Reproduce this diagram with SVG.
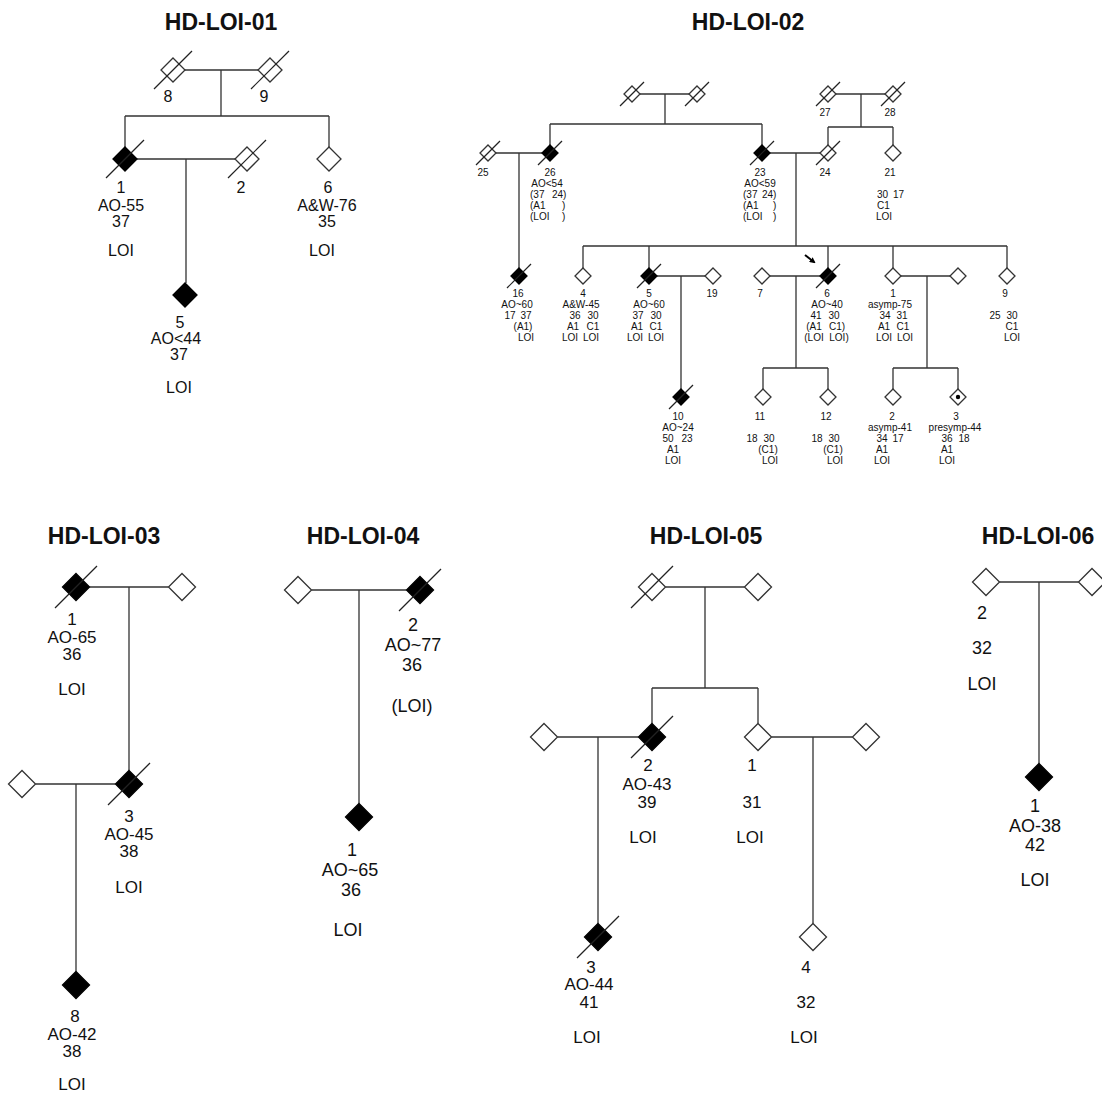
<svg xmlns="http://www.w3.org/2000/svg" xmlns:xlink="http://www.w3.org/1999/xlink" width="1102" height="1093" viewBox="0 0 1102 1093">
<style>
.bg{fill:#fff}
.ln{stroke:#333;stroke-width:1.3;fill:none}
.o{fill:#fff;stroke:#333;stroke-width:1.3}
.f{fill:#000;stroke:#000;stroke-width:1.3}
.s{stroke:#222;stroke-width:1.2;fill:none}
text{font-family:"Liberation Sans",Arial,sans-serif;fill:#111;text-anchor:middle}
.ttl{font-size:23px;font-weight:bold}
.t10{font-size:10px}
.t16{font-size:16px}
.t17{font-size:17px}
.t18{font-size:18px}
.st{text-anchor:start}
</style>
<defs>
<path id="dS" d="M0,-8L8,0L0,8L-8,0Z"/>
<path id="dM" d="M0,-12L12,0L0,12L-12,0Z"/>
<path id="dL" d="M0,-13.5L13.5,0L0,13.5L-13.5,0Z"/>
<path id="sS" d="M-12,12L12,-12"/>
<path id="sM" d="M-19,19L19,-19"/>
<path id="sL" d="M-21,21L21,-21"/>
<marker id="ah" markerWidth="6" markerHeight="6" refX="4" refY="3" orient="auto" markerUnits="userSpaceOnUse" viewBox="0 0 6 6"><path d="M0,0L6,3L0,6Z" fill="#000"/></marker>
</defs>
<rect class="bg" x="0" y="0" width="1102" height="1093"/>

<g id="titles">
<text class="ttl" x="221" y="30">HD-LOI-01</text>
<text class="ttl" x="748" y="30">HD-LOI-02</text>
<text class="ttl" x="104" y="544">HD-LOI-03</text>
<text class="ttl" x="363" y="544">HD-LOI-04</text>
<text class="ttl" x="706" y="544">HD-LOI-05</text>
<text class="ttl" x="1038" y="544">HD-LOI-06</text>
</g>

<g id="connectors">
<!-- HD-LOI-01 -->
<path class="ln" d="M185,70H258M221,70V116M125,116H329M125,116V147M329,116V147M137,159H235M186,159V283"/>
<!-- HD-LOI-02 -->
<path class="ln" d="M640,94H689M665,94V124M550,124H762M550,124V145M762,124V145"/>
<path class="ln" d="M836,94H885M861,94V127M828,127H893M828,127V145M893,127V145"/>
<path class="ln" d="M496,153H542M519,153V268M770,153H820M796,153V246"/>
<path class="ln" d="M583,246H1007M583,246V268M649,246V268M828,246V268M893,246V268M1007,246V268"/>
<path class="ln" d="M657,276H705M681,276V389"/>
<path class="ln" d="M770,276H820M796,276V368M763,368H828M763,368V389M828,368V389"/>
<path class="ln" d="M901,276H950M927,276V368M893,368H958M893,368V389M958,368V389"/>
<path class="ln" d="M805,255L814,262" style="stroke:#000;stroke-width:2" marker-end="url(#ah)"/>
<!-- HD-LOI-03 -->
<path class="ln" d="M89.5,587H168.5M129,587V770.5M35.5,784H115.5M76,784V971.5"/>
<!-- HD-LOI-04 -->
<path class="ln" d="M311.5,590H406.5M359,590V803.5"/>
<!-- HD-LOI-05 -->
<path class="ln" d="M665.5,587H744.5M705,587V688M652,688H758M652,688V723.5M758,688V723.5"/>
<path class="ln" d="M557.5,737H638.5M598,737V923.5M771.5,737H852.5M813,737V923.5"/>
<!-- HD-LOI-06 -->
<path class="ln" d="M999.5,582H1078.5M1039,582V763.5"/>
</g>

<!-- HD-LOI-01 nodes -->
<g id="p1-8"><use href="#dM" x="173" y="70" class="o"/><use href="#sM" x="173" y="70" class="s"/><text class="t16" x="168" y="102">8</text></g>
<g id="p1-9"><use href="#dM" x="270" y="70" class="o"/><use href="#sM" x="270" y="70" class="s"/><text class="t16" x="264" y="102">9</text></g>
<g id="p1-1"><use href="#dM" x="125" y="159" class="f"/><use href="#sM" x="125" y="159" class="s"/><text class="t16" x="121" y="193">1</text><text class="t16" x="121" y="211">AO-55</text><text class="t16" x="121" y="227">37</text><text class="t16" x="121" y="256">LOI</text></g>
<g id="p1-2"><use href="#dM" x="247" y="159" class="o"/><use href="#sM" x="247" y="159" class="s"/><text class="t16" x="241" y="193">2</text></g>
<g id="p1-6"><use href="#dM" x="329" y="159" class="o"/><text class="t16" x="328" y="193">6</text><text class="t16" x="327" y="211">A&amp;W-76</text><text class="t16" x="327" y="227">35</text><text class="t16" x="322" y="256">LOI</text></g>
<g id="p1-5"><use href="#dM" x="185" y="295" class="f"/><text class="t16" x="180" y="328">5</text><text class="t16" x="176" y="344">AO&lt;44</text><text class="t16" x="179" y="360">37</text><text class="t16" x="179" y="393">LOI</text></g>

<!-- HD-LOI-02 nodes -->
<g id="p2-gf"><use href="#dS" x="632" y="94" class="o"/><use href="#sS" x="632" y="94" class="s"/></g>
<g id="p2-gm"><use href="#dS" x="697" y="94" class="o"/><use href="#sS" x="697" y="94" class="s"/></g>
<g id="p2-27"><use href="#dS" x="828" y="94" class="o"/><use href="#sS" x="828" y="94" class="s"/><text class="t10" x="825" y="116">27</text></g>
<g id="p2-28"><use href="#dS" x="893" y="94" class="o"/><use href="#sS" x="893" y="94" class="s"/><text class="t10" x="890" y="116">28</text></g>
<g id="p2-25"><use href="#dS" x="488" y="153" class="o"/><use href="#sS" x="488" y="153" class="s"/><text class="t10" x="483" y="176">25</text></g>
<g id="p2-26"><use href="#dS" x="550" y="153" class="f"/><use href="#sS" x="550" y="153" class="s"/><text class="t10" x="550" y="176">26</text><text class="t10" x="547" y="187">AO&lt;54</text><text class="t10 st" y="198"><tspan x="530">(37</tspan><tspan x="552">24)</tspan></text><text class="t10 st" y="209"><tspan x="530">(A1</tspan><tspan x="562">)</tspan></text><text class="t10 st" y="220"><tspan x="530">(LOI</tspan><tspan x="562">)</tspan></text></g>
<g id="p2-23"><use href="#dS" x="762" y="153" class="f"/><use href="#sS" x="762" y="153" class="s"/><text class="t10" x="760" y="176">23</text><text class="t10" x="760" y="187">AO&lt;59</text><text class="t10 st" y="198"><tspan x="743">(37</tspan><tspan x="762">24)</tspan></text><text class="t10 st" y="209"><tspan x="743">(A1</tspan><tspan x="773">)</tspan></text><text class="t10 st" y="220"><tspan x="743">(LOI</tspan><tspan x="773">)</tspan></text></g>
<g id="p2-24"><use href="#dS" x="828" y="153" class="o"/><use href="#sS" x="828" y="153" class="s"/><text class="t10" x="825" y="176">24</text></g>
<g id="p2-21"><use href="#dS" x="893" y="153" class="o"/><text class="t10" x="890" y="176">21</text><text class="t10 st" y="198"><tspan x="877">30</tspan><tspan x="893">17</tspan></text><text class="t10 st" x="877" y="209">C1</text><text class="t10 st" x="876" y="220">LOI</text></g>

<g id="p2-16"><use href="#dS" x="519" y="276" class="f"/><use href="#sS" x="519" y="276" class="s"/><text class="t10" x="518" y="297">16</text><text class="t10" x="517" y="308">AO~60</text><text class="t10" y="319"><tspan x="510">17</tspan><tspan x="526">37</tspan></text><text class="t10" x="523" y="330">(A1)</text><text class="t10" x="526" y="341">LOI</text></g>
<g id="p2-4"><use href="#dS" x="583" y="276" class="o"/><text class="t10" x="583" y="297">4</text><text class="t10" x="581" y="308">A&amp;W-45</text><text class="t10" y="319"><tspan x="575">36</tspan><tspan x="593">30</tspan></text><text class="t10" y="330"><tspan x="573">A1</tspan><tspan x="593">C1</tspan></text><text class="t10" y="341"><tspan x="570">LOI</tspan><tspan x="591">LOI</tspan></text></g>
<g id="p2-5"><use href="#dS" x="649" y="276" class="f"/><use href="#sS" x="649" y="276" class="s"/><text class="t10" x="649" y="297">5</text><text class="t10" x="649" y="308">AO~60</text><text class="t10" y="319"><tspan x="638">37</tspan><tspan x="656">30</tspan></text><text class="t10" y="330"><tspan x="637">A1</tspan><tspan x="656">C1</tspan></text><text class="t10" y="341"><tspan x="635">LOI</tspan><tspan x="656">LOI</tspan></text></g>
<g id="p2-19"><use href="#dS" x="713" y="276" class="o"/><text class="t10" x="712" y="297">19</text></g>
<g id="p2-7"><use href="#dS" x="762" y="276" class="o"/><text class="t10" x="760" y="297">7</text></g>
<g id="p2-6"><use href="#dS" x="828" y="276" class="f"/><use href="#sS" x="828" y="276" class="s"/><text class="t10" x="827" y="297">6</text><text class="t10" x="827" y="308">AO~40</text><text class="t10" y="319"><tspan x="816">41</tspan><tspan x="834">30</tspan></text><text class="t10" y="330"><tspan x="814">(A1</tspan><tspan x="837">C1)</tspan></text><text class="t10" y="341"><tspan x="814">(LOI</tspan><tspan x="839">LOI)</tspan></text></g>
<g id="p2-1"><use href="#dS" x="893" y="276" class="o"/><text class="t10" x="893" y="297">1</text><text class="t10" x="890" y="308">asymp-75</text><text class="t10" y="319"><tspan x="885">34</tspan><tspan x="902">31</tspan></text><text class="t10" y="330"><tspan x="884">A1</tspan><tspan x="903">C1</tspan></text><text class="t10" y="341"><tspan x="884">LOI</tspan><tspan x="905">LOI</tspan></text></g>
<g id="p2-1sp"><use href="#dS" x="958" y="276" class="o"/></g>
<g id="p2-9"><use href="#dS" x="1007" y="276" class="o"/><text class="t10" x="1005" y="297">9</text><text class="t10" y="319"><tspan x="995">25</tspan><tspan x="1012">30</tspan></text><text class="t10" x="1012" y="330">C1</text><text class="t10" x="1012" y="341">LOI</text></g>

<g id="p2-10"><use href="#dS" x="681" y="397" class="f"/><use href="#sS" x="681" y="397" class="s"/><text class="t10" x="678" y="420">10</text><text class="t10" x="678" y="431">AO~24</text><text class="t10" y="442"><tspan x="668">50</tspan><tspan x="687">23</tspan></text><text class="t10" x="673" y="453">A1</text><text class="t10" x="673" y="464">LOI</text></g>
<g id="p2-11"><use href="#dS" x="763" y="397" class="o"/><text class="t10" x="760" y="420">11</text><text class="t10" y="442"><tspan x="752">18</tspan><tspan x="769">30</tspan></text><text class="t10" x="768" y="453">(C1)</text><text class="t10" x="770" y="464">LOI</text></g>
<g id="p2-12"><use href="#dS" x="828" y="397" class="o"/><text class="t10" x="826" y="420">12</text><text class="t10" y="442"><tspan x="817">18</tspan><tspan x="834">30</tspan></text><text class="t10" x="833" y="453">(C1)</text><text class="t10" x="835" y="464">LOI</text></g>
<g id="p2-2"><use href="#dS" x="893" y="397" class="o"/><text class="t10" x="892" y="420">2</text><text class="t10" x="890" y="431">asymp-41</text><text class="t10" y="442"><tspan x="882">34</tspan><tspan x="898">17</tspan></text><text class="t10" x="882" y="453">A1</text><text class="t10" x="882" y="464">LOI</text></g>
<g id="p2-3"><use href="#dS" x="958" y="397" class="o"/><circle cx="958" cy="397" r="2.2" fill="#000"/><text class="t10" x="956" y="420">3</text><text class="t10" x="955" y="431">presymp-44</text><text class="t10" y="442"><tspan x="947">36</tspan><tspan x="964">18</tspan></text><text class="t10" x="947" y="453">A1</text><text class="t10" x="947" y="464">LOI</text></g>

<!-- HD-LOI-03 nodes -->
<g id="p3-1"><use href="#dL" x="76" y="587" class="f"/><use href="#sL" x="76" y="587" class="s"/><text class="t17" x="72" y="625">1</text><text class="t17" x="72" y="643">AO-65</text><text class="t17" x="72" y="660">36</text><text class="t17" x="72" y="695">LOI</text></g>
<g id="p3-1sp"><use href="#dL" x="182" y="587" class="o"/></g>
<g id="p3-3"><use href="#dL" x="129" y="784" class="f"/><use href="#sL" x="129" y="784" class="s"/><text class="t17" x="129" y="822">3</text><text class="t17" x="129" y="840">AO-45</text><text class="t17" x="129" y="857">38</text><text class="t17" x="129" y="893">LOI</text></g>
<g id="p3-3sp"><use href="#dL" x="22" y="784" class="o"/></g>
<g id="p3-8"><use href="#dL" x="76" y="985" class="f"/><text class="t17" x="75" y="1022">8</text><text class="t17" x="72" y="1040">AO-42</text><text class="t17" x="72" y="1057">38</text><text class="t17" x="72" y="1090">LOI</text></g>

<!-- HD-LOI-04 nodes -->
<g id="p4-sp"><use href="#dL" x="298" y="590" class="o"/></g>
<g id="p4-2"><use href="#dL" x="420" y="590" class="f"/><use href="#sL" x="420" y="590" class="s"/><text class="t18" x="413" y="631">2</text><text class="t18" x="413" y="651">AO~77</text><text class="t18" x="412" y="671">36</text><text class="t18" x="412" y="712">(LOI)</text></g>
<g id="p4-1"><use href="#dL" x="359" y="817" class="f"/><text class="t18" x="352" y="856">1</text><text class="t18" x="350" y="876">AO~65</text><text class="t18" x="351" y="896">36</text><text class="t18" x="348" y="936">LOI</text></g>

<!-- HD-LOI-05 nodes -->
<g id="p5-gf"><use href="#dL" x="652" y="587" class="o"/><use href="#sL" x="652" y="587" class="s"/></g>
<g id="p5-gm"><use href="#dL" x="758" y="587" class="o"/></g>
<g id="p5-2"><use href="#dL" x="652" y="737" class="f"/><use href="#sL" x="652" y="737" class="s"/><text class="t17" x="648" y="771">2</text><text class="t17" x="647" y="790">AO-43</text><text class="t17" x="647" y="808">39</text><text class="t17" x="643" y="843">LOI</text></g>
<g id="p5-2sp"><use href="#dL" x="544" y="737" class="o"/></g>
<g id="p5-1"><use href="#dL" x="758" y="737" class="o"/><text class="t17" x="752" y="771">1</text><text class="t17" x="752" y="808">31</text><text class="t17" x="750" y="843">LOI</text></g>
<g id="p5-1sp"><use href="#dL" x="866" y="737" class="o"/></g>
<g id="p5-3"><use href="#dL" x="598" y="937" class="f"/><use href="#sL" x="598" y="937" class="s"/><text class="t17" x="591" y="973">3</text><text class="t17" x="589" y="990">AO-44</text><text class="t17" x="589" y="1008">41</text><text class="t17" x="587" y="1043">LOI</text></g>
<g id="p5-4"><use href="#dL" x="813" y="937" class="o"/><text class="t17" x="806" y="973">4</text><text class="t17" x="806" y="1008">32</text><text class="t17" x="804" y="1043">LOI</text></g>

<!-- HD-LOI-06 nodes -->
<g id="p6-2"><use href="#dL" x="986" y="582" class="o"/><text class="t18" x="982" y="619">2</text><text class="t18" x="982" y="654">32</text><text class="t18" x="982" y="690">LOI</text></g>
<g id="p6-sp"><use href="#dL" x="1092" y="582" class="o"/></g>
<g id="p6-1"><use href="#dL" x="1039" y="777" class="f"/><text class="t18" x="1035" y="812">1</text><text class="t18" x="1035" y="832">AO-38</text><text class="t18" x="1035" y="851">42</text><text class="t18" x="1035" y="886">LOI</text></g>
</svg>
